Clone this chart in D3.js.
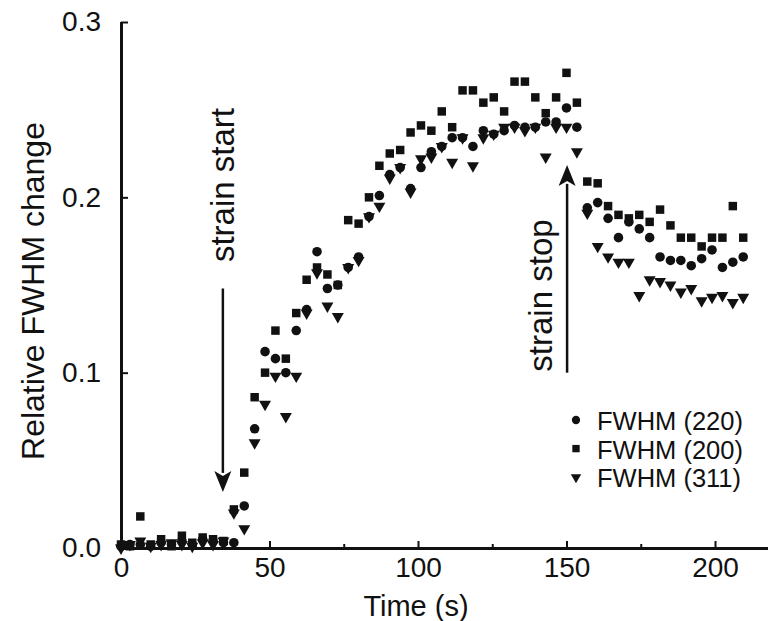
<!DOCTYPE html>
<html>
<head>
<meta charset="utf-8">
<script src="https://cdn.jsdelivr.net/npm/d3@7"></script>
<style>
  html, body { margin: 0; padding: 0; background: #fff; }
  svg { display: block; }
  text { font-family: "Liberation Sans", Arial, sans-serif; fill: #111; }
</style>
</head>
<body>
<svg id="chart" width="768" height="621"></svg>
<script>
// ---- data ----
const time = [0, 3, 6.5, 10, 13.5, 17, 20.5, 24, 27.5, 31, 34.5, 38, 41.5, 45, 48.5, 52, 55.5, 59, 62.5, 66,
  69.5, 73, 76.5, 80, 83.5, 87, 90.5, 94, 97.5, 101, 104.5, 108, 111.5, 115, 118.5, 122, 125.5, 129, 132.5, 136,
  139.5, 143, 146.5, 150, 153.5, 157, 160.5, 164, 167.5, 171, 174.5, 178, 181.5, 185, 188.5, 192, 195.5, 199, 202.5, 206, 209.5];

const fwhm220 = [0.001, 0.002, 0.002, 0.001, 0.003, 0.002, 0.004, 0.002, 0.005, 0.004, 0.003, 0.003, 0.024, 0.068, 0.112, 0.108, 0.100, 0.124, 0.136, 0.169,
  0.148, 0.150, 0.160, 0.166, 0.189, 0.201, 0.213, 0.217, 0.205, 0.217, 0.226, 0.229, 0.234, 0.234, 0.229, 0.238, 0.236, 0.238, 0.241, 0.240,
  0.240, 0.243, 0.243, 0.251, 0.240, 0.194, 0.197, 0.188, 0.177, 0.186, 0.182, 0.177, 0.166, 0.164, 0.164, 0.161, 0.165, 0.170, 0.160, 0.163, 0.166];

const fwhm200 = [0.002, 0.001, 0.018, 0.002, 0.005, 0.001, 0.007, 0.003, 0.006, 0.005, 0.004, 0.022, 0.043, 0.086, 0.100, 0.124, 0.108, 0.134, 0.153, 0.160,
  0.156, 0.150, 0.187, 0.185, 0.200, 0.218, 0.225, 0.227, 0.237, 0.241, 0.238, 0.249, 0.240, 0.261, 0.261, 0.254, 0.257, 0.249, 0.266, 0.266,
  0.257, 0.248, 0.257, 0.271, 0.254, 0.209, 0.208, 0.195, 0.190, 0.188, 0.190, 0.186, 0.193, 0.184, 0.177, 0.177, 0.172, 0.177, 0.177, 0.195, 0.177];

const fwhm311 = [0.000, 0.002, 0.004, 0.001, 0.002, 0.003, 0.002, 0.001, 0.003, 0.002, 0.004, 0.020, 0.011, 0.060, 0.082, 0.098, 0.075, 0.098, 0.134, 0.157,
  0.138, 0.132, 0.160, 0.164, 0.189, 0.195, 0.211, 0.217, 0.203, 0.222, 0.223, 0.229, 0.220, 0.234, 0.218, 0.234, 0.236, 0.240, 0.240, 0.238,
  0.240, 0.223, 0.240, 0.240, 0.226, 0.191, 0.172, 0.166, 0.163, 0.163, 0.144, 0.153, 0.152, 0.150, 0.146, 0.148, 0.141, 0.143, 0.144, 0.140, 0.143];

const seriesNames = ["FWHM (220)", "FWHM (200)", "FWHM (311)"];
const xTicks = [0, 50, 100, 150, 200];
const xMinorTicks = [25, 75, 125, 175];
const yTicks = [0, 0.1, 0.2, 0.3];
const xTitle = "Time (s)";
const yTitle = "Relative FWHM change";
const annotations = [
  { text: "strain start", t: 34.3, from: 0.148, to: 0.032, labelV: 0.207 },
  { text: "strain stop",  t: 150.2, from: 0.100, to: 0.2185, labelV: 0.144, labelT: 141.4 }
];

// ---- layout ----
const svg = d3.select("#chart");
const x = d3.scaleLinear().domain([0, 220]).range([121, 121 + 220 * 2.97]);
const y = d3.scaleLinear().domain([0, 0.3]).range([548, 22]);

const series = [
  { name: seriesNames[0], values: fwhm220, symbol: d3.symbolCircle, size: 72, rot: 0 },
  { name: seriesNames[1], values: fwhm200, symbol: d3.symbolSquare, size: 72, rot: 0 },
  { name: seriesNames[2], values: fwhm311, symbol: d3.symbolTriangle, size: 62, rot: 180 }
];

// ---- markers ----
series.forEach(s => {
  const sym = d3.symbol().type(s.symbol).size(s.size);
  svg.append("g").selectAll("path")
    .data(time.map((t, i) => ({ t, v: s.values[i] })))
    .join("path")
    .attr("d", sym)
    .attr("fill", "#111")
    .attr("transform", d => `translate(${x(d.t)},${y(d.v)}) rotate(${s.rot})`);
});

// ---- axes ----
const fontSize = 28;
const xAxis = svg.append("g").attr("transform", `translate(0,${y(0)})`)
  .call(d3.axisBottom(x).tickValues(xTicks).tickFormat(d3.format("d")).tickSizeInner(-7).tickSizeOuter(0).tickPadding(9));
const xMinor = svg.append("g").attr("transform", `translate(0,${y(0)})`)
  .call(d3.axisBottom(x).tickValues(xMinorTicks).tickFormat("").tickSizeInner(-4).tickSizeOuter(0));
const yAxis = svg.append("g").attr("transform", `translate(${x(0)},0)`)
  .call(d3.axisLeft(y).tickValues(yTicks).tickFormat(d3.format(".1f")).tickSizeInner(-7).tickSizeOuter(0).tickPadding(20));

[xAxis, xMinor, yAxis].forEach(g => {
  g.select(".domain").attr("stroke", "#111").attr("stroke-width", 3);
  g.selectAll(".tick line").attr("stroke", "#111").attr("stroke-width", 2);
  g.selectAll(".tick text").attr("font-size", fontSize).attr("fill", "#111")
    .attr("font-family", "'Liberation Sans', Arial, sans-serif");
});
yAxis.select(".domain").attr("d", `M0.5,${y(0) + 1.5}V${y(0.3)}`);

// axis titles
svg.append("text").attr("x", 416).attr("y", 606)
  .attr("text-anchor", "middle").attr("dominant-baseline", "central")
  .attr("font-size", 29).text(xTitle);
svg.append("text")
  .attr("transform", `translate(33,${(y(0) + y(0.3)) / 2 + 6}) rotate(-90)`)
  .attr("text-anchor", "middle").attr("dominant-baseline", "central")
  .attr("font-size", 32).text(yTitle);

// ---- annotations ----
annotations.forEach(a => {
  const ax = x(a.t), y1 = y(a.from), y2 = y(a.to);
  const dir = y2 > y1 ? 1 : -1;
  const headLen = 21, headW = 8.5;
  svg.append("line").attr("x1", ax).attr("x2", ax).attr("y1", y1).attr("y2", y2 - dir * headLen + dir * 2)
    .attr("stroke", "#111").attr("stroke-width", 2.5);
  svg.append("path")
    .attr("d", `M${ax},${y2} L${ax - headW},${y2 - dir * headLen} L${ax},${y2 - dir * (headLen - 5)} L${ax + headW},${y2 - dir * headLen} Z`)
    .attr("fill", "#111");
  const lx = x(a.labelT !== undefined ? a.labelT : a.t);
  svg.append("text")
    .attr("transform", `translate(${lx},${y(a.labelV)}) rotate(-90)`)
    .attr("text-anchor", "middle").attr("dominant-baseline", "central")
    .attr("font-size", 33).text(a.text);
});

// ---- legend ----
const legend = svg.append("g").attr("transform", "translate(576,420)");
series.forEach((s, i) => {
  const g = legend.append("g").attr("transform", `translate(0,${i * 28.6})`);
  g.append("path").attr("d", d3.symbol().type(s.symbol).size(s.size * 0.75)())
    .attr("fill", "#111").attr("transform", `rotate(${s.rot})`);
  g.append("text").attr("x", 21).attr("y", 1).attr("dominant-baseline", "central")
    .attr("font-size", 25.5).text(s.name);
});
</script>
</body>
</html>
